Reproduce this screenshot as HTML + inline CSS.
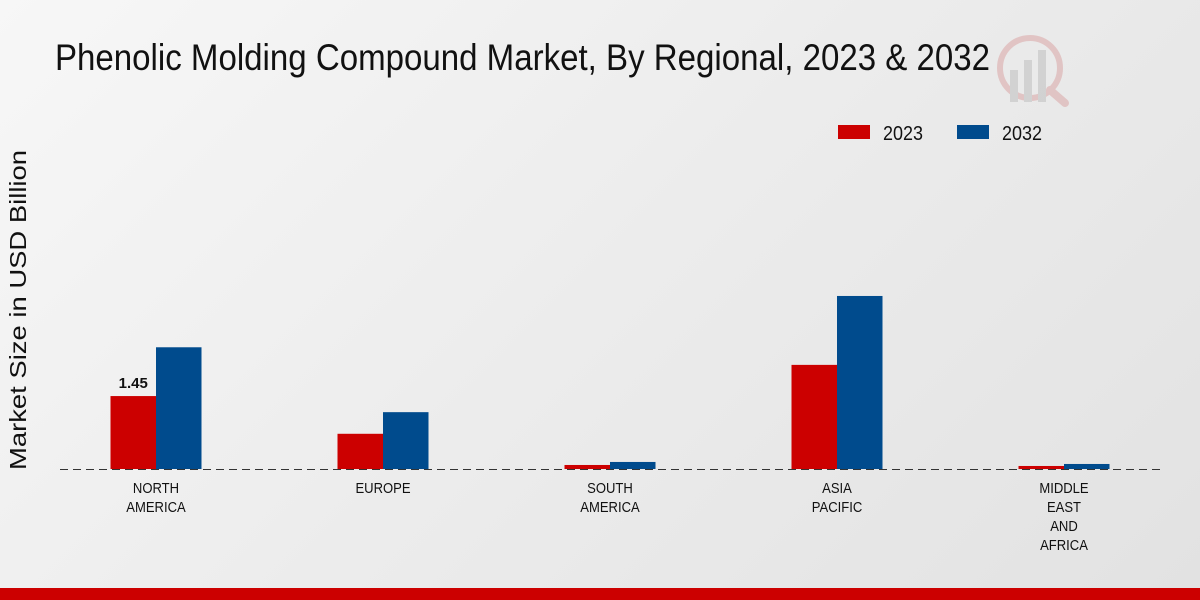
<!DOCTYPE html>
<html><head><meta charset="utf-8"><style>
html,body{margin:0;padding:0;width:1200px;height:600px;overflow:hidden}
body{background:linear-gradient(135deg,#f7f7f7 0%,#ececec 50%,#e2e2e2 100%);font-family:"Liberation Sans",sans-serif}
</style></head><body>
<svg id="c" width="1200" height="600" xmlns="http://www.w3.org/2000/svg" style="position:absolute;left:0;top:0">
<text x="55" y="70" font-size="37" textLength="935" lengthAdjust="spacingAndGlyphs" fill="#111">Phenolic Molding Compound Market, By Regional, 2023 &amp; 2032</text>
<g opacity="0.5">
<circle cx="1030" cy="68" r="30" fill="none" stroke="#d9a0a0" stroke-width="6"/>
<rect x="1010" y="70" width="8" height="32" fill="#bbb"/><rect x="1024" y="60" width="8" height="42" fill="#bbb"/><rect x="1038" y="50" width="8" height="52" fill="#bbb"/>
<line x1="1050" y1="90" x2="1065" y2="103" stroke="#d9a0a0" stroke-width="8" stroke-linecap="round"/>
</g>
<g>
<rect x="838" y="125" width="32" height="14" fill="#cc0000"/>
<text x="883" y="140" font-size="20" textLength="40" lengthAdjust="spacingAndGlyphs" fill="#111">2023</text>
<rect x="957" y="125" width="32" height="14" fill="#004b8d"/>
<text x="1002" y="140" font-size="20" textLength="40" lengthAdjust="spacingAndGlyphs" fill="#111">2032</text>
</g>
<text transform="translate(26,310) rotate(-90)" text-anchor="middle" font-size="23" textLength="320" lengthAdjust="spacingAndGlyphs" fill="#111">Market Size in USD Billion</text>
<g id="bars"></g>
<line x1="60" y1="469.5" x2="1160" y2="469.5" stroke="#333" stroke-dasharray="8,5"/>
<g id="labels"></g>
<rect x="0" y="588" width="1200" height="12" fill="#cc0000"/>
</svg>
<script>
const categories=[["NORTH","AMERICA"],["EUROPE"],["SOUTH","AMERICA"],["ASIA","PACIFIC"],["MIDDLE","EAST","AND","AFRICA"]];
const values2023=[1.45,0.70,0.08,2.07,0.06];
const values2032=[2.42,1.13,0.14,3.44,0.10];
const printed=["1.45",null,null,null,null];
const ns="http://www.w3.org/2000/svg";
const base=469,scale=50.3,x0=156,step=227,bw=45.5;
const y=v=>base-v*scale;
const xc=i=>x0+i*step;
const bars=document.getElementById('bars'),labels=document.getElementById('labels');
function mk(t,a){const e=document.createElementNS(ns,t);for(const k in a)e.setAttribute(k,a[k]);return e;}
categories.forEach((cat,i)=>{
  [[values2023,"#cc0000",-bw,"2023"],[values2032,"#004b8d",0,"2032"]].forEach(([arr,col,off,yr])=>{
    const r=mk('rect',{x:xc(i)+off,y:y(arr[i]),width:bw,height:arr[i]*scale,fill:col});
    
    
    bars.appendChild(r);
  });
  if(printed[i]){const t=mk('text',{x:xc(i)-bw/2,y:y(values2023[i])-8,'text-anchor':'middle','font-size':15,'font-weight':'bold',fill:'#111'});t.textContent=printed[i];
    
    
    labels.appendChild(t);}
  const t=mk('text',{'text-anchor':'middle','font-size':14.5,fill:'#111',transform:'translate('+xc(i)+',0) scale(0.9,1) translate('+(-xc(i))+',0)'});
  
  
  cat.forEach((l,j)=>{const s=mk('tspan',{x:xc(i),y:493+j*19});s.textContent=l;t.appendChild(s);});
  labels.appendChild(t);
});
</script>
</body></html>
